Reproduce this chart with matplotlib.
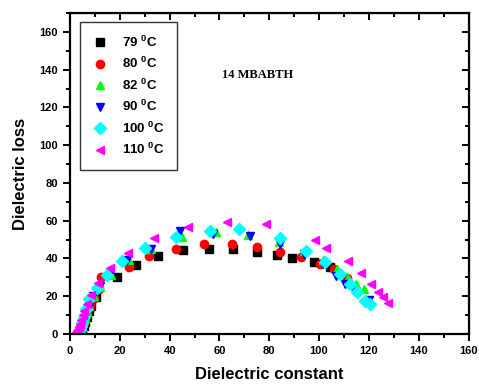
import matplotlib
matplotlib.use("Agg")
import matplotlib.pyplot as plt
from matplotlib.ticker import MultipleLocator

plt.rcParams['font.family'] = ['Liberation Sans', 'DejaVu Sans']
plt.rcParams['font.weight'] = 'bold'
plt.rcParams['mathtext.fontset'] = 'custom'
plt.rcParams['mathtext.rm'] = 'Liberation Sans:bold'
plt.rcParams['mathtext.default'] = 'rm'

labels = ["79 $^{0}$C", "80 $^{0}$C", "82 $^{0}$C", "90 $^{0}$C", "100 $^{0}$C", "110 $^{0}$C"]
colors = ["#000000", "#ff0000", "#00ff00", "#0000ff", "#00ffff", "#ff00ff"]
markers = ["s", "o", "^", "v", "D", "<"]

x79 = [4.5, 5.0, 5.5, 6.0, 6.8, 7.5, 8.5, 10.4, 18.8, 26.3, 35.3, 45.3, 55.7, 65.4, 75.0, 83.0, 89.0, 97.8, 104.2]
y79 = [0.5, 2.5, 4.5, 6.5, 9.0, 12.0, 14.8, 19.5, 30.1, 36.4, 41.2, 44.4, 44.9, 44.9, 43.3, 41.7, 40.1, 38.0, 35.4]

x80 = [4.0, 4.5, 5.0, 5.5, 6.2, 7.0, 8.0, 9.5, 11.5, 12.3, 23.7, 31.8, 42.4, 53.7, 65.1, 74.9, 84.5, 92.9, 100.2, 106.0, 111.3]
y80 = [0.5, 2.0, 4.0, 6.0, 8.5, 11.5, 15.0, 19.0, 24.0, 30.3, 35.5, 41.3, 45.2, 47.4, 47.4, 46.3, 43.5, 40.8, 37.3, 34.3, 29.9]

x82 = [3.8, 4.3, 4.8, 5.3, 6.0, 6.8, 7.8, 9.5, 12.0, 16.4, 23.5, 32.4, 44.8, 58.5, 71.4, 83.8, 93.8, 101.4, 107.1, 111.6, 114.9, 118.1]
y82 = [0.5, 2.0, 4.0, 6.0, 8.5, 11.5, 15.0, 20.0, 25.0, 31.5, 39.0, 45.2, 51.4, 54.0, 52.3, 48.8, 43.8, 39.1, 34.6, 29.7, 26.4, 23.9]

x90 = [3.6, 4.1, 4.6, 5.1, 5.8, 6.6, 7.6, 9.3, 12.0, 15.8, 23.0, 32.4, 44.3, 57.5, 72.2, 84.5, 93.8, 101.4, 106.7, 110.5, 114.3, 119.9]
y90 = [0.5, 2.0, 4.0, 6.0, 8.5, 11.5, 15.0, 20.0, 25.5, 31.3, 39.1, 45.2, 54.6, 53.2, 52.0, 47.9, 42.5, 37.0, 30.9, 26.5, 22.4, 18.0]

x100 = [3.5, 4.0, 4.5, 5.0, 5.7, 6.5, 7.7, 10.7, 14.7, 21.0, 30.1, 42.4, 56.3, 67.8, 84.4, 94.9, 102.2, 108.5, 112.3, 115.3, 118.3, 120.3]
y100 = [0.5, 2.0, 4.0, 6.0, 9.0, 13.0, 18.3, 24.1, 31.2, 38.5, 45.7, 51.5, 54.6, 55.7, 50.8, 44.2, 38.0, 31.7, 26.4, 22.2, 17.7, 15.8]

x110 = [2.5, 3.0, 3.5, 4.0, 4.6, 5.2, 5.8, 6.7, 8.3, 11.3, 16.0, 23.4, 33.8, 47.2, 63.0, 78.6, 98.2, 102.9, 111.7, 117.0, 121.0, 123.6, 125.6, 127.5]
y110 = [0.8, 2.2, 3.8, 5.5, 7.5, 9.8, 12.3, 15.8, 20.6, 26.8, 34.7, 43.1, 50.8, 56.7, 59.3, 58.1, 49.6, 45.4, 38.9, 32.2, 26.6, 22.5, 19.4, 16.5]

xs = [x79, x80, x82, x90, x100, x110]
ys = [y79, y80, y82, y90, y100, y110]
sizes = [5.4, 6.0, 6.2, 6.2, 5.8, 6.4]

fig = plt.figure(figsize=(4.79, 3.85), dpi=100)
ax = fig.add_axes([70 / 479, 1 - 334 / 385, 398.5 / 479, 321 / 385])

for x, y, c, m, lab, s in zip(xs, ys, colors, markers, labels, sizes):
    ax.plot(x, y, linestyle='none', marker=m, color=c, markeredgecolor=c,
            markersize=s, label=lab)

ax.set_xlim(0, 160)
ax.set_ylim(0, 170)
ax.xaxis.set_major_locator(MultipleLocator(20))
ax.xaxis.set_minor_locator(MultipleLocator(10))
ax.yaxis.set_minor_locator(MultipleLocator(10))
ax.set_yticks(range(0, 161, 20))

for sp in ax.spines.values():
    sp.set_linewidth(1.6)

ax.tick_params(which='both', direction='out', width=1.4, labelsize=8)
ax.tick_params(which='major', length=5)
ax.tick_params(which='minor', length=3)

# mirrored inward ticks on top and right
axt = ax.secondary_xaxis('top')
axt.xaxis.set_major_locator(MultipleLocator(20))
axt.xaxis.set_minor_locator(MultipleLocator(10))
axt.tick_params(which='both', direction='in', width=1.4, labeltop=False)
axt.tick_params(which='major', length=5)
axt.tick_params(which='minor', length=3)
axr = ax.secondary_yaxis('right')
axr.yaxis.set_major_locator(MultipleLocator(20))
axr.yaxis.set_minor_locator(MultipleLocator(10))
axr.tick_params(which='both', direction='in', width=1.4, labelright=False)
axr.tick_params(which='major', length=5)
axr.tick_params(which='minor', length=3)

for lab in ax.get_xticklabels() + ax.get_yticklabels():
    lab.set_fontweight('bold')

ax.set_xlabel("Dielectric constant", fontsize=12, fontweight='bold', labelpad=8)
ax.set_ylabel("Dielectric loss", fontsize=12, fontweight='bold', labelpad=8)

ax.text(75.5, 137, "14 MBABTH", fontsize=9, fontweight='bold',
        family=['Liberation Serif', 'DejaVu Serif'], ha='center', va='center')

leg = ax.legend(loc='upper left', bbox_to_anchor=(0.025, 0.972), frameon=True,
                fancybox=False, edgecolor='black', fontsize=9.5,
                handletextpad=1.0, labelspacing=0.48, borderpad=0.95,
                borderaxespad=0.0, handlelength=1.2, markerscale=1.0)
leg.get_frame().set_linewidth(1.0)
for t in leg.get_texts():
    t.set_fontweight('bold')

fig.savefig("out.png", dpi=100)
